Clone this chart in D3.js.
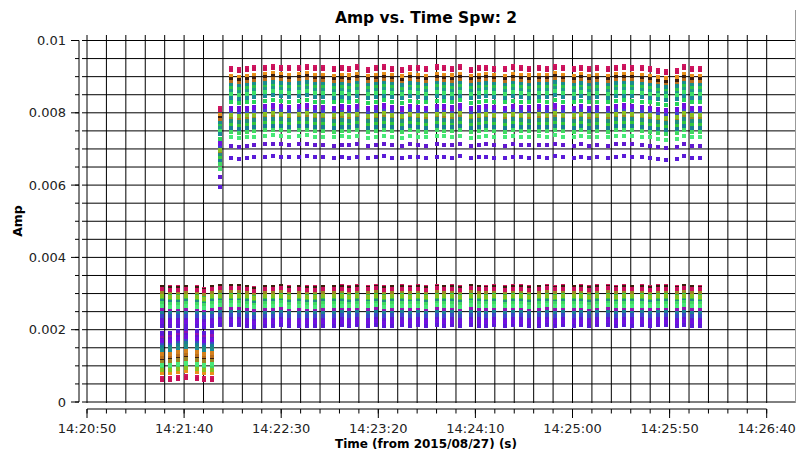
<!DOCTYPE html>
<html><head><meta charset="utf-8">
<script src="https://cdn.jsdelivr.net/npm/d3@7"></script>
<style>
html,body{margin:0;padding:0;background:#fff;}
svg{display:block;font-family:"DejaVu Sans",sans-serif;}
</style></head>
<body>
<svg id="chart" width="796" height="449"></svg>
<script>
// ---- data ----
const titleText = "Amp vs. Time Spw: 2";
const xTitle = "Time (from 2015/08/27) (s)";
const yTitle = "Amp";
// seconds after 14:20:00 for each integration
const times = [88.8, 92.8, 96.9, 100.9, 106.5, 110.5, 114.5, 118.6,
  124.1, 128.1, 132.2, 136.2, 141.8, 145.8, 149.8, 153.9,
  159.4, 163.4, 167.5, 171.5, 177.1, 181.1, 185.1, 189.2,
  194.7, 198.7, 202.8, 206.8, 212.4, 216.4, 220.4, 224.5,
  230.0, 234.0, 238.1, 242.1, 247.7, 251.7, 255.7, 259.8,
  265.3, 269.3, 273.4, 277.4, 283.0, 287.0, 291.0, 295.1,
  300.6, 304.6, 308.7, 312.7, 318.3, 322.3, 326.3, 330.4,
  335.9, 339.9, 344.0, 348.0, 353.6, 357.6, 361.6, 365.7];
const xTickValues = [50, 100, 150, 200, 250, 300, 350, 400];
const xTickLabels = ["14:20:50", "14:21:40", "14:22:30", "14:23:20", "14:24:10", "14:25:00", "14:25:50", "14:26:40"];
const yTickValues = [0, 0.002, 0.004, 0.006, 0.008, 0.01];
const yTickLabels = ["0", "0.002", "0.004", "0.006", "0.008", "0.01"];

// per-baseline colour and amplitude level in each of the three groups
const baselineColors = ["#d0155f", "#e8901a", "#3c1c0c", "#b86e1c", "#1a8c8c", "#2fc24a", "#1f9a86",
  "#3ce068", "#188a96", "#28d458", "#208c80", "#34c83c", "#d4801c", "#9c8424", "#6c14d8", "#9012b4",
  "#1a7c94", "#40d860", "#48e878", "#6018d0", "#5a1ad8", "#3a48c8", "#7010e0", "#c8105a", "#88c020"];
const upperAmp = [0.00926, 0.00905, 0.00896, 0.00888, 0.00880, 0.00871, 0.00863,
  0.00855, 0.00844, 0.00831, 0.00780, 0.00769, 0.00799, 0.00791, 0.00817, 0.00808,
  0.00761, 0.00750, 0.00734, 0.00711, 0.00677, 0.00802, 0.00814, 0.00920, 0.00795];
const lowerAmp = [0.00320, 0.00315, 0.00318, 0.00310, 0.00296, 0.00302, 0.00288,
  0.00285, 0.00278, 0.00270, 0.00281, 0.00290, 0.00312, 0.00306, 0.00262, 0.00255,
  0.00248, 0.00274, 0.00266, 0.00230, 0.00212, 0.00240, 0.00222, 0.00313, 0.00293];
const lowAmp = [0.00066, 0.00080, 0.00118, 0.00125, 0.00150, 0.00095, 0.00145,
  0.00100, 0.00140, 0.00090, 0.00148, 0.00105, 0.00132, 0.00112, 0.00185, 0.00178,
  0.00155, 0.00098, 0.00102, 0.00172, 0.00190, 0.00162, 0.00168, 0.00061, 0.00088];

// per-integration gain of each group (null = no data)
const gainUpper = [null, null, null, null, null, null, null, 0.877,
  0.997, 0.994, 0.997, 1.000, 1.002, 1.005, 1.002, 1.000,
  1.002, 1.005, 1.000, 1.000, 0.997, 1.001, 0.998, 1.003,
  0.996, 1.000, 1.004, 0.999, 0.995, 1.002, 1.000, 0.997,
  1.003, 1.001, 0.998, 1.004, 0.996, 1.000, 1.002, 0.999,
  0.997, 1.003, 1.000, 0.998, 1.001, 0.999, 1.005, 1.000,
  0.997, 1.002, 0.997, 1.000, 0.997, 1.002, 1.004, 1.002,
  1.000, 0.997, 0.992, 0.989, 0.992, 1.004, 0.997, 0.997];
const gainLower = [0.997, 0.991, 0.991, 0.997, 0.991, 0.977, 0.997, 1.005,
  1.005, 1.005, 0.997, 0.983, 0.997, 0.997, 1.005, 0.991,
  0.997, 0.991, 0.991, 0.997, 0.997, 1.002, 0.994, 1.000,
  0.996, 1.004, 0.990, 0.998, 1.003, 0.995, 1.000, 0.992,
  1.004, 0.997, 1.001, 0.993, 1.005, 0.998, 0.996, 1.002,
  0.994, 1.000, 1.003, 0.991, 0.998, 1.004, 0.995, 1.000,
  0.997, 1.002, 0.993, 0.999, 1.004, 0.996, 1.001, 0.998,
  1.003, 0.994, 0.999, 1.002, 0.996, 1.005, 0.997, 0.995];
const gainLow = [1.00, 1.01, 1.04, 1.07, 1.04, 1.01, 1.02];

// ---- build point table ----
const points = [];
times.forEach((t, c) => {
  baselineColors.forEach((col, b) => {
    if (c < gainLow.length) points.push({t, amp: lowAmp[b] * gainLow[c], color: col});
    points.push({t, amp: lowerAmp[b] * gainLower[c], color: col});
    if (gainUpper[c] !== null) points.push({t, amp: upperAmp[b] * gainUpper[c], color: col});
  });
});

// ---- drawing ----
const svg = d3.select("#chart");
svg.append("rect").attr("width", 796).attr("height", 449).attr("fill", "#fff");

const x = d3.scaleLinear().domain([50, 400]).range([87, 766.7]);
const y = d3.scaleLinear().domain([0, 0.01]).range([402, 40.5]);
const plotLeft = 82, plotRight = 795, plotTop = 35, plotBottom = 403;

// grid
const g = svg.append("g");
const vGrid = d3.range(50, 401, 10);
g.selectAll("line.v").data(vGrid).join("line")
  .attr("x1", d => x(d)).attr("x2", d => x(d))
  .attr("y1", plotTop).attr("y2", plotBottom)
  .attr("stroke", "#000").attr("stroke-width", 1);
const hGrid = d3.range(0, 21).map(i => i * 0.0005);
g.selectAll("line.h").data(hGrid).join("line")
  .attr("x1", plotLeft).attr("x2", plotRight)
  .attr("y1", d => y(d)).attr("y2", d => y(d))
  .attr("stroke", "#000").attr("stroke-width", 1);
g.append("line").attr("x1", 795.5).attr("x2", 795.5).attr("y1", 10).attr("y2", plotBottom)
  .attr("stroke", "#999").attr("stroke-width", 1);

// points
svg.append("g").selectAll("rect").data(points).join("rect")
  .attr("x", d => x(d.t) - 2).attr("y", d => y(d.amp) - 2)
  .attr("width", 4).attr("height", 4)
  .attr("fill", d => d.color)
  .attr("shape-rendering", "crispEdges");

// y axis
const ya = svg.append("g").attr("transform", "translate(79,0)");
ya.append("line").attr("x1", 0).attr("x2", 0).attr("y1", y(0.01)).attr("y2", y(0)).attr("stroke", "#000");
ya.selectAll("line.mn").data(hGrid).join("line")
  .attr("x1", -4).attr("x2", 0).attr("y1", d => y(d)).attr("y2", d => y(d)).attr("stroke", "#000");
ya.selectAll("line.mj").data(yTickValues).join("line")
  .attr("x1", -8).attr("x2", 0).attr("y1", d => y(d)).attr("y2", d => y(d)).attr("stroke", "#000");
ya.selectAll("text").data(yTickValues).join("text")
  .attr("x", -13).attr("y", d => y(d)).attr("dy", "0.35em")
  .attr("text-anchor", "end").attr("font-size", 13).attr("fill", "#222")
  .text((d, i) => yTickLabels[i]);

// x axis
const xa = svg.append("g").attr("transform", "translate(0,409)");
xa.append("line").attr("x1", x(50)).attr("x2", x(400)).attr("y1", 0).attr("y2", 0).attr("stroke", "#000");
xa.selectAll("line.mn").data(vGrid).join("line")
  .attr("x1", d => x(d)).attr("x2", d => x(d)).attr("y1", 0).attr("y2", 4.5).attr("stroke", "#000");
xa.selectAll("line.mj").data(xTickValues).join("line")
  .attr("x1", d => x(d)).attr("x2", d => x(d)).attr("y1", 0).attr("y2", 9).attr("stroke", "#000");
xa.selectAll("text").data(xTickValues).join("text")
  .attr("x", d => x(d)).attr("y", 24)
  .attr("text-anchor", "middle").attr("font-size", 13).attr("fill", "#222")
  .text((d, i) => xTickLabels[i]);

// titles
svg.append("text").attr("x", 426).attr("y", 23).attr("text-anchor", "middle")
  .attr("font-size", 15.5).attr("font-weight", "bold").text(titleText);
svg.append("text").attr("x", 426).attr("y", 447.5).attr("text-anchor", "middle")
  .attr("font-size", 12).attr("font-weight", "bold").text(xTitle);
svg.append("text").attr("transform", "translate(22,221) rotate(-90)").attr("text-anchor", "middle")
  .attr("font-size", 12.5).attr("font-weight", "bold").text(yTitle);
</script>
</body></html>
